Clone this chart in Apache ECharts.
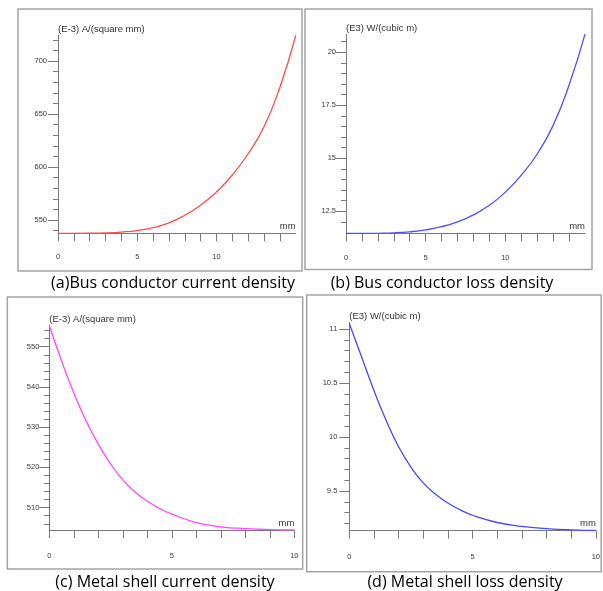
<!DOCTYPE html>
<html>
<head>
<meta charset="utf-8">
<script src="https://cdn.jsdelivr.net/npm/echarts@6/dist/echarts.min.js"></script>
<style>
html,body{margin:0;padding:0;background:#fff;}
#c{width:603px;height:591px;}
</style>
</head>
<body>
<div id="c"></div>
<script>
// ---- data ----
const xBus = [0,1,2,3,4,5,6,7,8,9,10,11,12,13,14,15];
const busCurrent = [537.5,537.5,537.6,537.9,538.7,540.1,542.8,547.3,554.5,564.0,576.5,592.5,612.5,638.0,675.0,724.0];
const busLoss = [11.45,11.45,11.46,11.48,11.53,11.62,11.77,12.0,12.33,12.78,13.4,14.2,15.2,16.55,18.45,20.85];

const xShell = [0,0.5,1,1.5,2,2.5,3,3.5,4,4.5,5,6,7,8,9,10];
const shellCurrent = [555.2,546.5,538.5,531.6,525.8,520.9,516.9,513.9,511.6,509.8,508.4,506.3,505.25,504.8,504.55,504.45];
const shellLoss = [11.05,10.74,10.43,10.15,9.91,9.72,9.575,9.47,9.388,9.325,9.275,9.208,9.172,9.152,9.14,9.134];

const yLabelsA = [550,600,650,700];
const yTicksA = [540,550,560,570,580,590,600,610,620,630,640,650,660,670,680,690,700,710,720];
const yLabelsB = [12.5,15,17.5,20];
const yTicksB = [12,12.5,13,13.5,14,14.5,15,15.5,16,16.5,17,17.5,18,18.5,19,19.5,20,20.5];
const yLabelsC = [510,520,530,540,550];
const yTicksC = [506,508,510,512,514,516,518,520,522,524,526,528,530,532,534,536,538,540,542,544,546,548,550,552,554];
const yLabelsD = [9.5,10,10.5,11];
const yTicksD = [9.2,9.3,9.4,9.5,9.6,9.7,9.8,9.9,10,10.1,10.2,10.3,10.4,10.5,10.6,10.7,10.8,10.9,11];

const xLabels = [0,5,10];
const xTicksBus = [0,1,2,3,4,5,6,7,8,9,10,11,12,13,14];
const xTicksShell = [0,1,2,3,4,5,6,7,8,9,10];

const yNames = ['(E-3) A/(square mm)','(E3) W/(cubic m)','(E-3) A/(square mm)','(E3) W/(cubic m)'];
const captions = ['(a)Bus conductor current density','(b) Bus conductor loss density','(c) Metal shell current density','(d) Metal shell loss density'];

// ---- layout ----
const panels = [
  {grid:{left:58,top:35,width:237.7,height:198.3}, xmax:15, ymin:537.5, ymax:724.5, color:'#ff4a4a', x:xBus, y:busCurrent, yl:yLabelsA, yt:yTicksA, xt:xTicksBus, lm:20, ym:11},
  {grid:{left:346,top:34.2,width:239,height:199.3}, xmax:15, ymin:11.45, ymax:20.85, color:'#4f4fff', x:xBus, y:busLoss, yl:yLabelsB, yt:yTicksB, xt:xTicksBus, lm:20, ym:10},
  {grid:{left:49.3,top:325,width:245,height:205}, xmax:10, ymin:504.45, ymax:555.4, color:'#ff45ff', x:xShell, y:shellCurrent, yl:yLabelsC, yt:yTicksC, xt:xTicksShell, lm:22, ym:10},
  {grid:{left:349.3,top:322.5,width:246.7,height:208.2}, xmax:10, ymin:9.132, ymax:11.06, color:'#4848ff', x:xShell, y:shellLoss, yl:yLabelsD, yt:yTicksD, xt:xTicksShell, lm:22, ym:12}
];

const narrow = "'Liberation Sans Narrow','Arial Narrow','Liberation Sans',sans-serif";
const axisColor = '#7a7a7a';
const labelColor = '#3a3a3a';

const grids = [], xAxes = [], yAxes = [], series = [];
panels.forEach((p, i) => {
  grids.push(Object.assign({containLabel:false}, p.grid));
  xAxes.push({
    gridIndex:i, type:'value', min:0, max:p.xmax,
    axisLine:{show:true, onZero:false, lineStyle:{color:axisColor, width:1}},
    axisTick:{show:true, inside:false, length:8, customValues:p.xt, lineStyle:{color:axisColor}},
    axisLabel:{customValues:xLabels, margin:p.lm, fontSize:7.5, color:labelColor, fontFamily:narrow},
    splitLine:{show:false},
    name:'mm', nameLocation:'end', nameGap:0,
    nameTextStyle:{align:'right', verticalAlign:'bottom', fontSize:9.5, color:'#333', fontFamily:narrow, padding:[0,0,2,0]}
  });
  yAxes.push({
    gridIndex:i, type:'value', position:'left', min:p.ymin, max:p.ymax,
    axisLine:{show:true, onZero:false, lineStyle:{color:axisColor, width:1}},
    axisTick:{show:true, length:5, customValues:p.yt, lineStyle:{color:axisColor}},
    axisLabel:{customValues:p.yl, margin:p.ym, fontSize:7.5, color:labelColor, fontFamily:narrow},
    splitLine:{show:false},
    name:yNames[i], nameLocation:'end', nameGap:1,
    nameTextStyle:{align:'left', verticalAlign:'bottom', fontSize:9.5, color:'#333', fontFamily:narrow}
  });
  yAxes.push({
    gridIndex:i, type:'value', position:'left', offset:0, min:p.ymin, max:p.ymax,
    axisLine:{show:false},
    axisTick:{show:true, length:10, customValues:p.yl, lineStyle:{color:axisColor}},
    axisLabel:{show:false},
    splitLine:{show:false}
  });
  series.push({
    type:'line', xAxisIndex:i, yAxisIndex:2*i, showSymbol:false, smooth:0.5,
    lineStyle:{color:p.color, width:1.3}, itemStyle:{color:p.color},
    data:p.x.map((v, k) => [v, p.y[k]]), silent:true, animation:false
  });
});

const borderStyle = {stroke:'#a4a4a4', fill:null, lineWidth:1.5};
const boxes = [
  {x:18, y:9, width:284, height:262},
  {x:305, y:9, width:287, height:260.5},
  {x:7.3, y:297, width:295.4, height:272},
  {x:306.7, y:295, width:294.5, height:276.7}
];
const capPos = [[173,283.5],[442,283],[165,582.5],[465,582]];
const graphic = [];
boxes.forEach(b => graphic.push({type:'rect', shape:b, style:borderStyle, silent:true, z:-1}));
captions.forEach((t, i) => graphic.push({
  type:'text', x:capPos[i][0], y:capPos[i][1],
  style:{text:t, fill:'#000', font:"16px 'Open Sans', sans-serif", textAlign:'center', textVerticalAlign:'middle', align:'center', verticalAlign:'middle'},
  silent:true
}));

const chart = echarts.init(document.getElementById('c'), null, {renderer:'canvas'});
chart.setOption({
  animation:false,
  backgroundColor:'#fff',
  grid:grids, xAxis:xAxes, yAxis:yAxes, series:series, graphic:graphic
});
</script>
</body>
</html>
